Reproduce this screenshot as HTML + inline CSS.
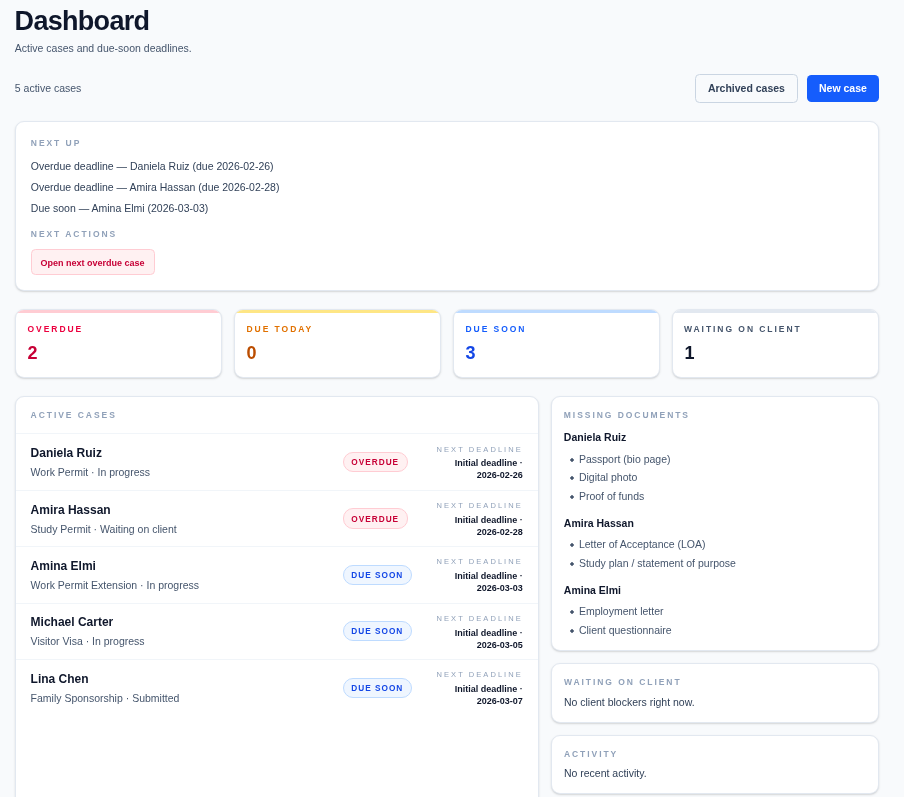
<!DOCTYPE html>
<html lang="en">
<head>
<meta charset="utf-8">
<title>Dashboard</title>
<style>
*{box-sizing:border-box;margin:0;padding:0}
html,body{width:904px;height:797px;overflow:hidden}
body{background:#f8fafc;font-family:"Liberation Sans",Arial,sans-serif;color:#314158;font-size:10.5px;position:relative}
h1{position:absolute;left:14.6px;top:4.5px;font-size:27px;line-height:32px;font-weight:700;color:#0f172b;letter-spacing:-0.7px;white-space:nowrap}
.sub{position:absolute;left:14.8px;top:41px;font-size:10.5px;line-height:14px;color:#45556c;white-space:nowrap}
.count{position:absolute;left:14.8px;top:81px;font-size:10.5px;line-height:14px;color:#45556c;white-space:nowrap}
.btn{position:absolute;font-size:10.5px;font-weight:700;line-height:14px;border-radius:4.5px;text-align:center;white-space:nowrap}
.btn.ghost{left:695.3px;top:74.1px;width:103.2px;height:28.5px;border:1px solid #cad5e2;background:#f8fafc;color:#314158;padding:6.2px 0 0 11.6px;text-align:left}
.btn.primary{left:807px;top:74.9px;width:71.8px;height:26.8px;background:#155dfc;color:#fff;padding-top:6.4px}
.card{position:absolute;background:#fff;border:1px solid #e2e8f0;border-radius:9px;box-shadow:0 1px 2.25px rgba(0,0,0,.13),0 1px 1.5px -1px rgba(0,0,0,.13)}
.lbl{font-size:8.5px;letter-spacing:1.95px;text-transform:uppercase;color:#90a1b9;font-weight:700;line-height:10px;white-space:nowrap}
#nextup{left:15px;top:121px;width:864px;height:170px}
#nextup>*{position:absolute;left:14.8px}
#nextup p{font-size:10.5px;line-height:14px;color:#314158;white-space:nowrap}
.chip{border:1px solid #ffccd3;background:#fff1f2;color:#c70036;font-weight:700;font-size:9px;line-height:12px;border-radius:4.5px;white-space:nowrap;width:124.5px;height:25.5px;text-align:left;padding:7.1px 0 0 8.7px}
.stat{height:69px;top:309px;width:207px;overflow:hidden}
.stat:before{content:"";position:absolute;left:0;right:0;top:0;height:3px;background:var(--b)}
.stat .lbl{position:absolute;left:11.5px;top:14.2px}
.stat .num{position:absolute;left:11.5px;top:31.7px;font-size:18px;font-weight:700;line-height:22px}
#s1{left:15px;--b:#ffccd3}
#s2{left:234px;--b:#fee685}
#s3{left:453px;--b:#bedbff}
#s4{left:672px;--b:#e2e8f0}
#s1 .lbl{color:#ec003f}#s1 .num{color:#c70036}
#s2 .lbl{color:#e17100}#s2 .num{color:#bb4d00}
#s3 .lbl{color:#155dfc}#s3 .num{color:#1447e6}
#s4 .lbl{color:#45556c;left:11px}#s4 .num{color:#0f172b}
#cases{left:15px;top:396px;width:524px;height:420px}
#cases .hd{position:absolute;left:14.6px;top:12.9px}
.row{position:absolute;left:0;right:0;height:56.5px;border-top:1px solid #f1f5f9}
.row .nm{position:absolute;left:14.6px;top:12.3px;font-size:12px;font-weight:700;color:#0f172b;line-height:15px;white-space:nowrap}
.row .meta{position:absolute;left:14.6px;top:31.6px;font-size:10.5px;color:#45556c;line-height:13px;white-space:nowrap}
.pill{position:absolute;left:326.5px;top:17.9px;height:20px;border-radius:10px;font-size:8.25px;font-weight:700;letter-spacing:1px;line-height:20px;padding:0 0 0 7.8px;border:1px solid;white-space:nowrap}
.pill.od{border-color:#ffccd3;background:#fff1f2;color:#c70036;width:65px}
.pill.ds{border-color:#bedbff;background:#eff6ff;color:#1447e6;width:69px}
.row .nd{position:absolute;right:15.2px;top:10.8px;text-align:right;width:120px}
.row .nd .lbl{font-size:7.5px;letter-spacing:2.06px;line-height:9px;color:#90a1b9;font-weight:400;margin-right:0}
.row .nd b span{display:block;position:relative}
.row .nd .lbl,.row .nm,.row .meta{transform:none}
.row .nd b{display:block;font-size:9px;line-height:12.4px;color:#0f172b;margin-top:3px;white-space:nowrap}
#docs{left:551px;top:396px;width:328px;height:255px}
#docs>*{position:absolute;left:11.8px}
#docs h3{font-size:10.5px;font-weight:700;color:#0f172b;line-height:14px;white-space:nowrap}
#docs .li{font-size:10.5px;line-height:13px;color:#45556c;padding-left:15.1px;white-space:nowrap}
#docs .li:before{content:"";position:absolute;left:4.8px;top:4px;width:6px;height:6px;background:radial-gradient(circle at center,#45556c 0,#45556c 1.4px,rgba(69,85,108,0) 2.1px)}
#wait{left:551px;top:663px;width:328px;height:60px}
#act{left:551px;top:735.4px;width:328px;height:58.6px}
#wait>*,#act>*{position:absolute;left:11.9px}
.note{font-size:10.5px;line-height:13px;color:#314158;white-space:nowrap}
</style>
</head>
<body>
<h1>Dashboard</h1>
<div class="sub">Active cases and due-soon deadlines.</div>
<div class="count">5 active cases</div>
<div class="btn ghost">Archived cases</div>
<div class="btn primary">New case</div>

<div class="card" id="nextup">
  <div class="lbl" style="top:16.2px">Next up</div>
  <p style="top:37.4px">Overdue deadline — Daniela Ruiz (due 2026-02-26)</p>
  <p style="top:58.3px">Overdue deadline — Amira Hassan (due 2026-02-28)</p>
  <p style="top:79.3px">Due soon — Amina Elmi (2026-03-03)</p>
  <div class="lbl" style="top:107px">Next actions</div>
  <div class="chip" style="top:127.1px">Open next overdue case</div>
</div>

<div class="card stat" id="s1"><div class="lbl">Overdue</div><div class="num">2</div></div>
<div class="card stat" id="s2"><div class="lbl">Due today</div><div class="num">0</div></div>
<div class="card stat" id="s3"><div class="lbl">Due soon</div><div class="num">3</div></div>
<div class="card stat" id="s4"><div class="lbl">Waiting on client</div><div class="num">1</div></div>

<div class="card" id="cases">
  <div class="hd lbl">Active cases</div>
  <div class="row" style="top:36.20px"><div class="nm">Daniela Ruiz</div><div class="meta">Work Permit · In progress</div><span class="pill od">OVERDUE</span><div class="nd"><div class="lbl">Next deadline</div><b><span class="l1">Initial deadline ·</span><span class="l2">2026-02-26</span></b></div></div>
  <div class="row" style="top:92.65px"><div class="nm">Amira Hassan</div><div class="meta" style="margin-top:.7px">Study Permit · Waiting on client</div><span class="pill od" style="margin-top:-1px;height:21px;line-height:21px">OVERDUE</span><div class="nd"><div class="lbl">Next deadline</div><b><span class="l1" style="top:.7px">Initial deadline ·</span><span class="l2">2026-02-28</span></b></div></div>
  <div class="row" style="top:149.10px"><div class="nm">Amina Elmi</div><div class="meta">Work Permit Extension · In progress</div><span class="pill ds">DUE SOON</span><div class="nd"><div class="lbl" style="position:relative;top:-.7px">Next deadline</div><b><span class="l1">Initial deadline ·</span><span class="l2">2026-03-03</span></b></div></div>
  <div class="row" style="top:205.55px"><div class="nm" style="margin-top:-.7px">Michael Carter</div><div class="meta">Visitor Visa · In progress</div><span class="pill ds">DUE SOON</span><div class="nd"><div class="lbl">Next deadline</div><b><span class="l1" style="top:.7px">Initial deadline ·</span><span class="l2">2026-03-05</span></b></div></div>
  <div class="row" style="top:262.00px"><div class="nm">Lina Chen</div><div class="meta">Family Sponsorship · Submitted</div><span class="pill ds">DUE SOON</span><div class="nd"><div class="lbl" style="position:relative;top:-.7px">Next deadline</div><b><span class="l1">Initial deadline ·</span><span class="l2">2026-03-07</span></b></div></div>
</div>

<div class="card" id="docs">
  <div class="lbl" style="top:13.1px">Missing documents</div>
  <h3 style="top:33.2px">Daniela Ruiz</h3>
  <div class="li" style="top:55.9px">Passport (bio page)</div>
  <div class="li" style="top:73.7px">Digital photo</div>
  <div class="li" style="top:93.4px">Proof of funds</div>
  <h3 style="top:119.1px">Amira Hassan</h3>
  <div class="li" style="top:140.8px">Letter of Acceptance (LOA)</div>
  <div class="li" style="top:159.9px">Study plan / statement of purpose</div>
  <h3 style="top:186.2px">Amina Elmi</h3>
  <div class="li" style="top:207.9px">Employment letter</div>
  <div class="li" style="top:226.6px">Client questionnaire</div>
</div>

<div class="card" id="wait"><div class="lbl" style="top:13.1px">Waiting on client</div><div class="note" style="top:32.0px">No client blockers right now.</div></div>
<div class="card" id="act"><div class="lbl" style="top:12.5px">Activity</div><div class="note" style="top:30.5px">No recent activity.</div></div>
</body>
</html>
